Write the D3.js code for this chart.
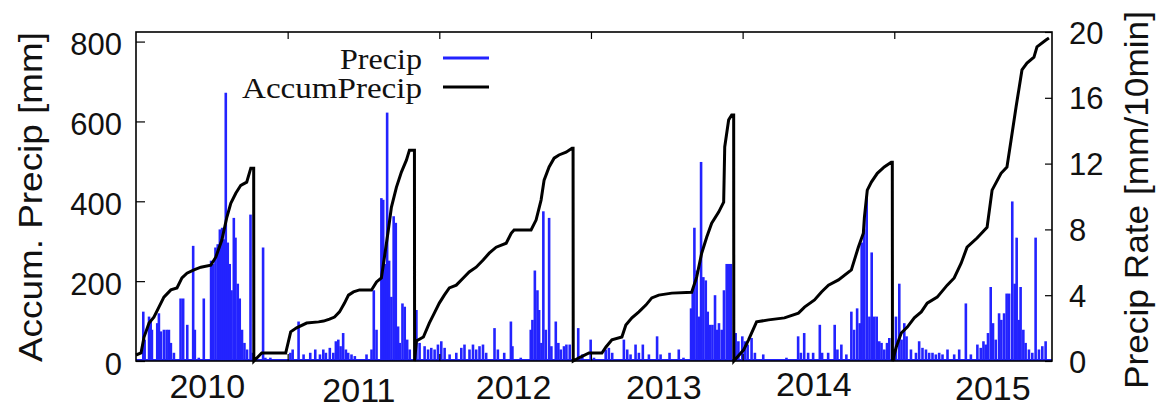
<!DOCTYPE html>
<html><head><meta charset="utf-8">
<script src="https://cdn.jsdelivr.net/npm/d3@7/dist/d3.min.js"></script>
<style>html,body{margin:0;padding:0;background:#fff;}svg{display:block;}</style>
</head><body>
<svg id="chart" width="1159" height="409"></svg>
<script>
// ---- data (decimal years) ----
const yearLabels = ["2010","2011","2012","2013","2014","2015"];
const yearLabelAt = [2010.47, 2011.47, 2012.49, 2013.48, 2014.47, 2015.65];
const yearTicks = [2011, 2012, 2013, 2014, 2015];
const leftTicks = [0, 200, 400, 600, 800];
const rightTicks = [0, 4, 8, 12, 16, 20];
const seriesNames = ["Precip", "AccumPrecip"];

// AccumPrecip [mm] : [decimal year, mm]
const accumPrecip = [
[2010.000,15],[2010.033,20],[2010.053,60],[2010.086,95],[2010.118,110],[2010.151,135],[2010.184,160],[2010.230,178],[2010.270,183],[2010.303,208],[2010.336,220],[2010.382,228],[2010.428,235],[2010.493,240],[2010.526,260],[2010.566,303],[2010.599,360],[2010.625,395],[2010.658,420],[2010.691,440],[2010.730,448],[2010.757,483],[2010.776,483],[2010.777,0],
[2010.816,15],[2010.829,20],[2010.987,20],[2011.020,73],[2011.059,83],[2011.125,95],[2011.204,98],[2011.237,100],[2011.276,105],[2011.309,110],[2011.342,123],[2011.375,145],[2011.401,165],[2011.434,173],[2011.474,178],[2011.553,178],[2011.586,198],[2011.618,208],[2011.638,260],[2011.664,328],[2011.684,385],[2011.717,435],[2011.750,473],[2011.783,503],[2011.803,528],[2011.836,528],[2011.837,0],
[2011.849,50],[2011.895,60],[2011.934,95],[2011.967,120],[2012.000,145],[2012.033,165],[2012.066,183],[2012.112,190],[2012.158,208],[2012.197,223],[2012.243,235],[2012.289,253],[2012.329,270],[2012.375,285],[2012.441,295],[2012.474,320],[2012.493,328],[2012.605,328],[2012.638,353],[2012.671,403],[2012.691,453],[2012.724,486],[2012.757,508],[2012.789,516],[2012.836,523],[2012.875,533],[2012.882,533],[2012.883,0],
[2012.921,8],[2012.987,20],[2013.072,20],[2013.099,35],[2013.138,53],[2013.204,60],[2013.230,90],[2013.270,108],[2013.316,123],[2013.362,140],[2013.401,158],[2013.447,165],[2013.533,170],[2013.664,172],[2013.697,210],[2013.730,270],[2013.763,310],[2013.796,345],[2013.842,373],[2013.875,398],[2013.882,536],[2013.908,604],[2013.928,616],[2013.941,616],[2013.942,0],
[2013.961,8],[2014.007,28],[2014.039,53],[2014.092,98],[2014.171,103],[2014.276,108],[2014.368,120],[2014.408,135],[2014.474,153],[2014.520,173],[2014.566,190],[2014.632,203],[2014.717,228],[2014.763,285],[2014.796,320],[2014.803,360],[2014.822,428],[2014.849,448],[2014.888,470],[2014.934,486],[2014.980,498],[2014.987,498],[2014.988,0],
[2015.013,35],[2015.046,70],[2015.086,85],[2015.132,108],[2015.178,123],[2015.217,145],[2015.283,160],[2015.349,190],[2015.395,208],[2015.441,245],[2015.480,285],[2015.546,308],[2015.612,335],[2015.645,428],[2015.704,470],[2015.743,486],[2015.770,553],[2015.803,636],[2015.842,729],[2015.875,746],[2015.921,761],[2015.941,787],[2016.000,804],[2016.020,809]
];

// Precip rate [mm/10min] : [decimal year, rate]
const precipRate = [
[2010.048,3.0],[2010.057,1.3],[2010.086,2.7],[2010.097,2.5],[2010.105,1.9],[2010.140,2.3],[2010.151,2.9],[2010.164,1.8],[2010.184,1.9],[2010.202,1.9],[2010.217,1.9],[2010.230,1.1],[2010.250,0.5],[2010.294,3.8],[2010.311,3.8],[2010.338,2.2],[2010.377,7.0],[2010.388,1.9],[2010.414,0.2],[2010.447,3.8],[2010.495,6.1],[2010.509,5.9],[2010.524,6.9],[2010.539,7.1],[2010.553,8.0],[2010.568,8.1],[2010.579,7.4],[2010.592,16.3],[2010.605,7.2],[2010.618,5.9],[2010.630,4.3],[2010.645,8.7],[2010.656,7.5],[2010.671,4.7],[2010.684,3.8],[2010.699,1.9],[2010.715,1.1],[2010.732,0.7],[2010.755,8.9],[2010.770,0.5],[2010.838,6.9],[2010.853,0.2],[2010.886,0.2],[2010.952,0.1],[2011.018,0.5],[2011.033,0.7],[2011.072,2.4],[2011.105,0.4],[2011.149,0.5],[2011.182,0.7],
[2011.213,0.4],[2011.235,0.7],[2011.252,0.5],[2011.278,0.8],[2011.301,0.5],[2011.318,1.2],[2011.334,1.3],[2011.349,0.9],[2011.366,1.7],[2011.384,0.7],[2011.399,0.5],[2011.421,0.4],[2011.443,0.3],[2011.487,0.1],[2011.520,0.4],[2011.553,0.7],[2011.568,4.3],[2011.586,1.9],[2011.618,9.9],[2011.630,9.8],[2011.640,5.9],[2011.656,15.1],[2011.669,6.1],[2011.684,3.9],[2011.699,8.8],[2011.713,8.4],[2011.728,2.1],[2011.739,1.1],[2011.757,3.5],[2011.772,3.3],[2011.788,1.3],[2011.805,0.7],
[2011.849,3.1],[2011.870,1.1],[2011.903,0.9],[2011.926,0.7],[2011.947,0.8],[2011.969,0.7],[2011.991,1.0],[2012.013,1.2],[2012.035,0.8],[2012.068,0.4],[2012.112,0.5],[2012.145,0.8],[2012.166,1.0],[2012.199,0.7],[2012.222,1.0],[2012.243,0.7],[2012.265,0.9],[2012.288,1.0],[2012.309,0.5],[2012.364,2.0],[2012.386,0.7],[2012.428,0.5],[2012.472,2.4],[2012.482,0.9],[2012.537,0.2],[2012.603,1.9],[2012.614,2.5],[2012.630,5.5],[2012.647,4.3],[2012.658,3.1],[2012.673,1.1],[2012.686,9.1],[2012.702,1.9],[2012.724,8.7],[2012.739,0.9],[2012.768,2.4],[2012.785,1.1],[2012.801,0.7],[2012.822,0.9],[2012.838,1.0],[2012.860,1.0],
[2012.916,2.0],[2012.943,0.4],[2012.998,1.3],[2013.020,0.2],[2013.097,0.7],[2013.118,0.8],[2013.140,0.5],[2013.217,1.3],[2013.239,0.7],[2013.261,0.4],[2013.294,1.0],[2013.316,0.5],[2013.342,1.0],[2013.382,0.4],[2013.436,1.5],[2013.459,0.4],[2013.518,0.5],[2013.579,0.7],[2013.610,0.2],[2013.660,3.2],[2013.671,4.3],[2013.682,8.1],[2013.697,5.5],[2013.713,2.7],[2013.726,12.1],[2013.741,5.1],[2013.757,4.9],[2013.770,3.0],[2013.785,2.2],[2013.801,2.2],[2013.818,4.0],[2013.829,1.9],[2013.844,2.3],[2013.862,1.9],[2013.877,4.3],[2013.895,5.9],[2013.910,5.9],[2013.923,5.9],
[2013.954,1.7],[2013.972,1.2],[2013.998,1.5],[2014.015,1.2],[2014.033,1.0],[2014.059,1.4],[2014.081,0.5],[2014.136,0.4],[2014.202,0.1],[2014.289,0.2],[2014.366,1.5],[2014.384,0.5],[2014.406,1.7],[2014.432,0.5],[2014.465,0.5],[2014.509,2.2],[2014.524,0.5],[2014.564,0.5],[2014.607,2.2],[2014.625,0.7],[2014.651,1.0],[2014.684,0.4],[2014.717,3.0],[2014.735,1.9],[2014.755,3.2],[2014.772,2.3],[2014.785,7.2],[2014.801,8.0],[2014.818,10.0],[2014.836,2.7],[2014.851,6.6],[2014.868,2.7],[2014.884,2.7],[2014.901,1.2],[2014.916,1.1],[2014.934,0.7],[2014.952,1.1],[2014.967,1.4],
[2015.011,2.7],[2015.033,4.7],[2015.048,1.3],[2015.066,2.3],[2015.081,1.5],[2015.110,0.7],[2015.143,0.5],[2015.164,1.2],[2015.186,0.8],[2015.209,0.7],[2015.230,0.5],[2015.252,0.5],[2015.274,0.4],[2015.296,0.5],[2015.318,0.4],[2015.351,0.7],[2015.395,0.4],[2015.428,0.7],[2015.472,3.5],[2015.505,0.4],[2015.548,1.0],[2015.570,0.8],[2015.588,1.2],[2015.603,1.0],[2015.618,1.7],[2015.636,4.5],[2015.651,2.3],[2015.669,1.3],[2015.691,2.9],[2015.706,2.5],[2015.724,2.9],[2015.741,4.1],[2015.757,4.1],[2015.778,9.7],[2015.794,4.7],[2015.807,7.5],[2015.822,2.5],[2015.833,4.5],[2015.851,1.9],[2015.866,1.1],[2015.888,0.7],[2015.910,0.5],[2015.932,7.5],[2015.954,0.7],[2015.976,0.9],[2015.998,1.2]
];

// ---- layout ----
const L = 136, R = 1052, T = 32, B = 361;
const blue = "#2323ff";
const svg = d3.select("#chart");

const x = d3.scaleLinear().domain([2010, 2016.04]).range([L, R]);
const yL = d3.scaleLinear().domain([0, 824]).range([B, T]);
const yR = d3.scaleLinear().domain([0, 20]).range([B, T]);

// precip impulses
const gBars = svg.append("g");
gBars.append("line")
  .attr("x1", L).attr("x2", R).attr("y1", yR(0) - 1).attr("y2", yR(0) - 1)
  .attr("stroke", blue).attr("stroke-width", 2);
gBars.selectAll("line.bar").data(precipRate).join("line")
  .attr("class", "bar")
  .attr("x1", d => x(d[0])).attr("x2", d => x(d[0]))
  .attr("y1", yR(0)).attr("y2", d => yR(d[1]))
  .attr("stroke", blue).attr("stroke-width", 2.6);

// accumulated line
const line = d3.line().x(d => x(d[0])).y(d => yL(d[1]));
svg.append("path").datum(accumPrecip)
  .attr("d", line).attr("fill", "none")
  .attr("stroke", "#000").attr("stroke-width", 3)
  .attr("stroke-linejoin", "miter");

// frame
svg.append("rect").attr("x", L).attr("y", T).attr("width", R - L).attr("height", B - T)
  .attr("fill", "none").attr("stroke", "#000").attr("stroke-width", 1.6);

// axes
const fontSans = "'Liberation Sans', Arial, Helvetica, sans-serif";
const axL = svg.append("g").attr("transform", `translate(${L},0)`)
  .call(d3.axisLeft(yL).tickValues(leftTicks).tickSizeInner(-9).tickSizeOuter(0).tickPadding(14));
const axR = svg.append("g").attr("transform", `translate(${R},0)`)
  .call(d3.axisRight(yR).tickValues(rightTicks).tickSizeInner(-7).tickSizeOuter(0).tickPadding(17));
const axT = svg.append("g").attr("transform", `translate(0,${T})`)
  .call(d3.axisTop(x).tickValues(yearTicks).tickSizeInner(-7).tickSizeOuter(0).tickFormat(""));
const axB = svg.append("g").attr("transform", `translate(0,${B})`)
  .call(d3.axisBottom(x).tickValues(yearTicks).tickSizeInner(-7).tickSizeOuter(0).tickFormat(""));
[axL, axR, axT, axB].forEach(a => {
  a.select(".domain").remove();
  a.selectAll(".tick line").attr("stroke", "#000").attr("stroke-width", 1.2);
  a.selectAll("text").attr("font-family", fontSans).attr("font-size", 31).attr("fill", "#111");
});
axL.selectAll("text").attr("dy", "0.42em");
axR.selectAll("text").attr("dy", "0.36em");

// year labels
const yearDy = [398, 402, 399, 399, 396, 400];
svg.append("g").selectAll("text").data(yearLabels).join("text")
  .attr("x", (d, i) => x(yearLabelAt[i])).attr("y", (d, i) => yearDy[i])
  .attr("text-anchor", "middle").attr("font-family", fontSans).attr("font-size", 34)
  .attr("fill", "#111").text(d => d);

// axis titles
svg.append("text").attr("transform", "translate(42,197) rotate(-90)")
  .attr("text-anchor", "middle").attr("font-family", fontSans).attr("font-size", 33)
  .attr("fill", "#111").attr("textLength", 330).attr("lengthAdjust", "spacingAndGlyphs")
  .text("Accum. Precip [mm]");
svg.append("text").attr("transform", "translate(1148,200) rotate(-90)")
  .attr("text-anchor", "middle").attr("font-family", fontSans).attr("font-size", 33)
  .attr("fill", "#111").attr("textLength", 378).attr("lengthAdjust", "spacingAndGlyphs")
  .text("Precip Rate [mm/10min]");

// legend
const fontSerif = "'Liberation Serif', 'Times New Roman', serif";
const legColors = [blue, "#000"];
const legY = [58, 87];
const legLen = [82, 180];
const leg = svg.append("g");
seriesNames.forEach((name, i) => {
  leg.append("text").attr("x", 422).attr("y", legY[i] + 11)
    .attr("text-anchor", "end").attr("font-family", fontSerif).attr("font-size", 29)
    .attr("fill", "#111").attr("textLength", legLen[i]).attr("lengthAdjust", "spacingAndGlyphs")
    .text(name);
  leg.append("line").attr("x1", 443).attr("x2", 489).attr("y1", legY[i]).attr("y2", legY[i])
    .attr("stroke", legColors[i]).attr("stroke-width", 3);
});
</script>
</body></html>
